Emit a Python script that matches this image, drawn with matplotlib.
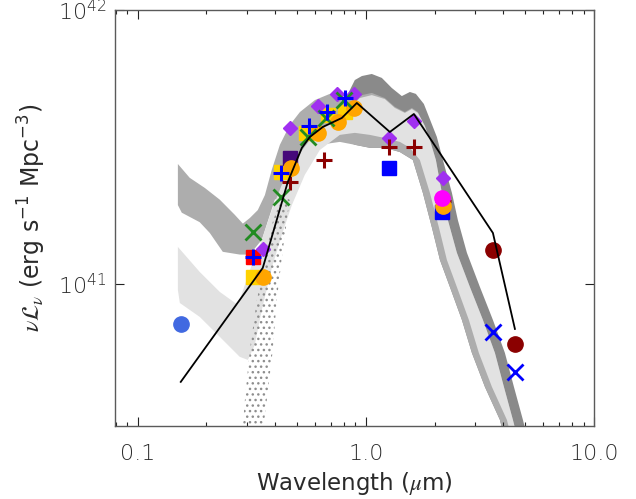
import matplotlib
matplotlib.use("Agg")
import matplotlib.pyplot as plt
from matplotlib.ticker import FixedLocator, FixedFormatter, LogLocator, NullLocator, NullFormatter

plt.rcParams["font.family"] = ["DejaVu Sans"]
plt.rcParams["font.weight"] = "light"
plt.rcParams["mathtext.fontset"] = "stix"
plt.rcParams["hatch.linewidth"] = 1.0

# Luminosity density values below are in units of 1e40 erg s^-1 Mpc^-3
L_UNIT = 1e40

# ---- template spectra envelopes: (wavelength [um], luminosity) ----
DARK_OUTER = [(0.809, 46.9), (0.895, 55.5), (0.961, 57.4), (1.062, 58.4), (1.175, 56.5),
              (1.300, 51.9), (1.438, 48.5), (1.560, 50.2), (1.657, 49.4), (1.796, 45.4),
              (2.048, 34.4), (2.177, 28.35), (2.384, 21.5), (2.532, 17.1), (2.773, 13.0),
              (3.162, 9.75), (3.606, 7.39), (4.070, 5.60), (4.458, 4.21), (4.882, 3.19),
              (5.134, 2.70)]
DARK_INNER = [(0.809, 33.5), (0.895, 32.2), (1.041, 31.4), (1.211, 31.4), (1.410, 30.3),
              (1.607, 28.35), (1.778, 21.5), (1.947, 16.1), (2.112, 12.24), (2.336, 9.75),
              (2.637, 7.39), (2.917, 5.60), (3.326, 4.21), (3.870, 3.19), (4.070, 2.70)]

MID_OUTER = [(0.150, 27.4), (0.169, 24.4), (0.197, 22.4), (0.229, 20.3), (0.266, 17.9),
             (0.289, 16.6), (0.310, 17.4), (0.336, 18.6), (0.361, 21.1), (0.387, 26.1),
             (0.420, 32.2), (0.464, 38.0), (0.514, 42.4), (0.598, 46.9), (0.695, 49.4),
             (0.809, 48.1), (0.895, 47.3), (0.961, 48.9), (1.062, 49.8), (1.211, 47.7),
             (1.340, 44.3), (1.483, 42.4), (1.591, 43.9), (1.691, 42.4), (1.815, 37.7),
             (1.909, 33.5), (2.028, 28.35), (2.154, 21.5), (2.289, 17.1), (2.506, 13.0),
             (2.858, 9.75), (3.260, 7.39), (3.680, 5.60), (4.029, 4.21), (4.413, 3.19),
             (4.642, 2.70)]
MID_INNER = [(0.150, 19.4), (0.156, 18.2), (0.187, 16.8), (0.207, 15.35), (0.236, 13.1),
             (0.280, 12.8), (0.310, 12.8), (0.350, 14.5), (0.399, 20.3), (0.441, 21.1),
             (0.488, 25.0), (0.540, 29.6), (0.628, 32.2), (0.769, 33.0), (0.895, 32.2),
             (1.041, 31.4), (1.211, 31.4), (1.410, 30.3), (1.607, 28.35), (1.778, 21.5),
             (1.947, 16.1), (2.112, 12.24), (2.336, 9.75), (2.637, 7.39), (2.917, 5.60),
             (3.326, 4.21), (3.870, 3.19), (4.070, 2.70)]

LIGHT_OUTER = [(0.150, 13.65), (0.187, 11.06), (0.229, 9.35), (0.275, 8.38), (0.295, 9.92),
               (0.316, 11.73), (0.350, 14.5), (0.387, 18.6), (0.428, 23.0), (0.488, 28.35),
               (0.568, 33.5), (0.695, 39.0), (0.851, 43.9), (0.941, 47.7), (1.062, 48.9),
               (1.211, 47.3), (1.340, 43.9), (1.483, 42.1), (1.591, 43.5), (1.691, 42.1),
               (1.815, 37.7), (1.909, 33.5), (2.028, 28.35), (2.154, 21.5), (2.289, 17.1),
               (2.506, 13.0), (2.858, 9.75), (3.260, 7.39), (3.680, 5.60), (4.029, 4.21),
               (4.413, 3.19), (4.642, 2.70)]
LIGHT_INNER = [(0.150, 9.51), (0.153, 8.52), (0.187, 7.58), (0.229, 6.41), (0.280, 5.42),
               (0.304, 5.28), (0.326, 5.99), (0.350, 8.04), (0.387, 11.44), (0.428, 15.1),
               (0.474, 19.4), (0.540, 25.0), (0.628, 30.8), (0.769, 35.0), (0.895, 35.6),
               (1.041, 35.0), (1.211, 34.1), (1.410, 33.0), (1.560, 31.4), (1.725, 28.35),
               (1.909, 21.5), (2.090, 16.1), (2.266, 12.24), (2.506, 9.75), (2.829, 7.39),
               (3.130, 5.60), (3.570, 4.21), (4.153, 3.19), (4.369, 2.70)]

# old-population template: sparse UV tail
OLD_OUTER = [(0.350, 2.70), (0.368, 3.77), (0.391, 5.74), (0.407, 8.74), (0.4325, 13.31),
             (0.464, 20.26)]
OLD_INNER = [(0.286, 2.70), (0.295, 3.77), (0.310, 5.74), (0.333, 8.74), (0.361, 12.24),
             (0.387, 16.42), (0.428, 21.13)]

# ---- model SED sampled at the filter wavelengths ----
MODEL_WAVE = [0.1544, 0.3533, 0.4548, 0.5240, 0.5681, 0.6477, 0.7848, 0.9131,
              1.274, 1.624, 3.606, 4.503]
MODEL_LUM = [4.39, 11.44, 23.56, 31.36, 34.39, 37.41, 40.35, 45.77,
             35.87, 41.72, 15.35, 6.85]

# ---- measured luminosity densities ----
FUV_WAVE, FUV_LUM = [0.155], [7.15]
RED_SQ_WAVE, RED_SQ_LUM = [0.321], [12.5]
GOLD_SQ_WAVE = [0.321, 0.423, 0.548, 0.682, 0.810]
GOLD_SQ_LUM = [10.6, 25.7, 35.6, 41.4, 42.6]
ORANGE_WAVE = [0.355, 0.470, 0.620, 0.752, 0.890, 2.18]
ORANGE_LUM = [10.6, 26.4, 35.6, 39.1, 43.7, 19.3]
BLUE_PLUS_WAVE = [0.321, 0.423, 0.563, 0.678, 0.810]
BLUE_PLUS_LUM = [12.5, 25.4, 37.8, 42.6, 47.7]
GREEN_X_WAVE = [0.321, 0.423, 0.559, 0.672, 0.800]
GREEN_X_LUM = [15.5, 20.8, 34.5, 40.3, 47.0]
DIAMOND_WAVE = [0.353, 0.467, 0.614, 0.745, 0.890, 1.26, 1.63, 2.18]
DIAMOND_LUM = [13.4, 37.0, 44.7, 49.2, 49.5, 34.0, 39.4, 24.4]
INDIGO_WAVE, INDIGO_LUM = [0.465], [28.9]
DARKRED_PLUS_WAVE = [0.465, 0.655, 1.26, 1.63, 2.18]
DARKRED_PLUS_LUM = [23.5, 28.4, 31.7, 31.7, 20.0]
BLUE_SQ_WAVE, BLUE_SQ_LUM = [1.26, 2.16], [26.4, 18.3]
MAGENTA_WAVE, MAGENTA_LUM = [2.16], [20.6]
DARKRED_CIRC_WAVE, DARKRED_CIRC_LUM = [3.6, 4.5], [13.3, 6.04]
BLUE_X_WAVE, BLUE_X_LUM = [3.6, 4.5], [6.70, 4.77]

X_TICKS = [0.1, 1.0, 10.0]
X_TICK_LABELS = ["0.1", "1.0", "10.0"]
Y_TICKS = [1e41, 1e42]
Y_TICK_LABELS = [r"$\mathregular{10^{41}}$", r"$\mathregular{10^{42}}$"]

TEXT_COLOR = "#2a2a2a"

fig = plt.figure(figsize=(6.36, 4.99), dpi=100)
ax = fig.add_axes([0.1808, 0.1463, 0.7531, 0.8337])
ax.set_xscale("log")
ax.set_yscale("log")
ax.set_xlim(0.0795, 10.0)
ax.set_ylim(3.03e40, 1.0e42)


def scaled(vals):
    return [v * L_UNIT for v in vals]


def band(outer, inner, **kw):
    xs = [p[0] for p in outer] + [p[0] for p in inner[::-1]]
    ys = [p[1] * L_UNIT for p in outer] + [p[1] * L_UNIT for p in inner[::-1]]
    ax.fill(xs, ys, **kw)


band(DARK_OUTER, DARK_INNER, color="#8a8a8a", lw=0, zorder=1)
band(MID_OUTER, MID_INNER, color="#adadad", lw=0, zorder=1.1)
band(LIGHT_OUTER, LIGHT_INNER, color="#e2e2e2", lw=0, zorder=1.2)
band(OLD_OUTER, OLD_INNER, facecolor="none", edgecolor="#8e8e8e", hatch="...",
     lw=0, zorder=1.3)

mk = dict(linestyle="none")
ax.plot(GOLD_SQ_WAVE, scaled(GOLD_SQ_LUM), marker="s", ms=10.5, color="#FFD200", zorder=3, **mk)
ax.plot(RED_SQ_WAVE, scaled(RED_SQ_LUM), marker="s", ms=10.5, color="#FF0000", zorder=3.1, **mk)
ax.plot(INDIGO_WAVE, scaled(INDIGO_LUM), marker="s", ms=10.5, color="#45087A", zorder=3.2, **mk)
ax.plot(BLUE_SQ_WAVE, scaled(BLUE_SQ_LUM), marker="s", ms=10.5, color="#0000FF", zorder=3.3, **mk)
ax.plot(DIAMOND_WAVE, scaled(DIAMOND_LUM), marker="D", ms=7, color="#A030F0", zorder=3.4, **mk)
ax.plot(DARKRED_PLUS_WAVE, scaled(DARKRED_PLUS_LUM), marker="+", ms=11, mew=2.2,
        color="#8B0000", zorder=3.5, **mk)
ax.plot(ORANGE_WAVE, scaled(ORANGE_LUM), marker="o", ms=11, color="#FFA500", zorder=3.6, **mk)
ax.plot(MAGENTA_WAVE, scaled(MAGENTA_LUM), marker="o", ms=11, color="#FF00FF", zorder=3.7, **mk)
ax.plot(GREEN_X_WAVE, scaled(GREEN_X_LUM), marker="x", ms=11, mew=2.0,
        color="#228B22", zorder=3.8, **mk)
ax.plot(BLUE_PLUS_WAVE, scaled(BLUE_PLUS_LUM), marker="+", ms=11, mew=2.2,
        color="#0000FF", zorder=3.9, **mk)
ax.plot(DARKRED_CIRC_WAVE, scaled(DARKRED_CIRC_LUM), marker="o", ms=11, color="#8B0000",
        zorder=4, **mk)
ax.plot(BLUE_X_WAVE, scaled(BLUE_X_LUM), marker="x", ms=11, mew=2.0, color="#0000FF",
        zorder=4.1, **mk)
ax.plot(FUV_WAVE, scaled(FUV_LUM), marker="o", ms=11, color="#4169E1", zorder=4.2, **mk)

ax.plot(MODEL_WAVE, scaled(MODEL_LUM), color="black", lw=1.3, zorder=5)

# axes styling
for sp in ax.spines.values():
    sp.set_color("#5a5a5a")
    sp.set_linewidth(1.0)

ax.xaxis.set_major_locator(FixedLocator(X_TICKS))
ax.xaxis.set_major_formatter(FixedFormatter(X_TICK_LABELS))
ax.xaxis.set_minor_locator(LogLocator(base=10, subs=range(2, 10)))
ax.xaxis.set_minor_formatter(NullFormatter())
ax.yaxis.set_major_locator(FixedLocator(Y_TICKS))
ax.yaxis.set_major_formatter(FixedFormatter(Y_TICK_LABELS))
ax.yaxis.set_minor_locator(NullLocator())

ax.tick_params(which="both", direction="in", top=True, right=True, color="#222222",
               labelcolor=TEXT_COLOR, labelsize=16, width=0.8)
ax.tick_params(which="major", length=6.5)
ax.tick_params(which="minor", length=3.2)
ax.tick_params(axis="x", pad=13)
ax.tick_params(axis="y", pad=6)

ax.set_xlabel(r"Wavelength ($\mu$m)", fontsize=16.5, color=TEXT_COLOR)
ax.xaxis.set_label_coords(0.5, -0.106)
ax.set_ylabel(r"$\nu\mathcal{L}_\nu$ (erg s$\mathregular{^{-1}}$ Mpc$\mathregular{^{-3}}$)",
              fontsize=17, color=TEXT_COLOR)
ax.yaxis.set_label_coords(-0.14, 0.5)

fig.savefig("out.png", dpi=100)
